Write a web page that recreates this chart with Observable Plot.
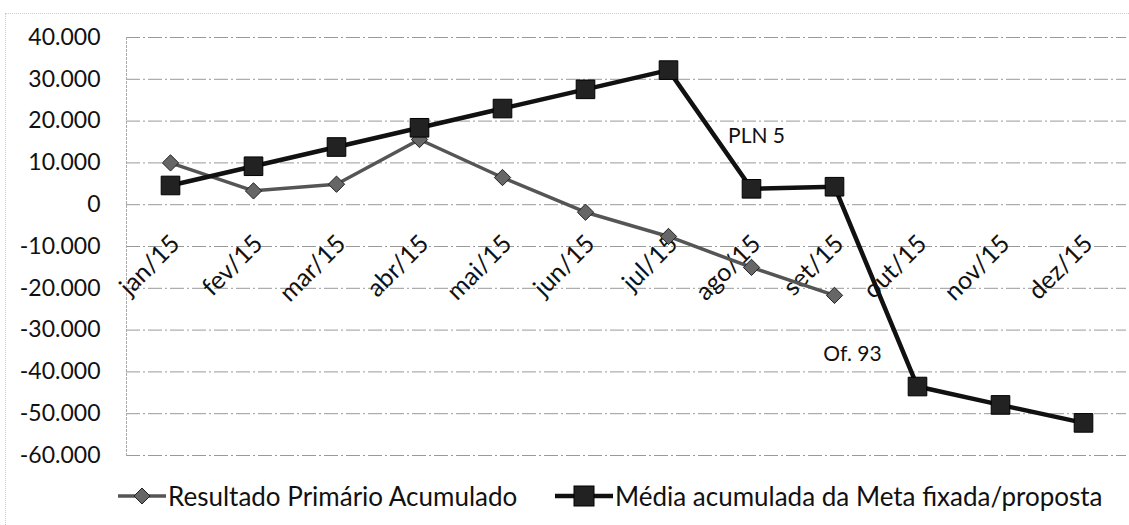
<!DOCTYPE html>
<html><head><meta charset="utf-8">
<script src="https://cdn.jsdelivr.net/npm/d3@7"></script>
<script src="https://cdn.jsdelivr.net/npm/@observablehq/plot@0.6"></script>
<style>
body{margin:0;background:#fff;font-family:Lato,sans-serif;}
#wrap{position:relative;width:1129px;height:525px;overflow:hidden;}
#chart{position:absolute;left:0;top:0;}
#legend{position:absolute;left:0;top:481px;width:1129px;height:30px;font-size:26px;color:#111;white-space:nowrap;}
#legend .it{position:absolute;top:0;height:30px;display:flex;align-items:center;}
#legend svg{display:block;}
#bt{position:absolute;left:5px;top:13px;width:1124px;border-top:1px dotted #ccc;}
#bl{position:absolute;left:5px;top:13px;height:512px;border-left:1px dotted #ccc;}
</style></head><body>
<div id="wrap"><div id="bt"></div><div id="bl"></div><div id="chart"></div><div id="legend"></div></div>
<script>
const months = ["jan/15","fev/15","mar/15","abr/15","mai/15","jun/15","jul/15","ago/15","set/15","out/15","nov/15","dez/15"];
const resultado = [10000, 3300, 4900, 15600, 6500, -1800, -7600, -15000, -21700];
const meta = [4600, 9200, 13800, 18400, 23000, 27600, 32200, 3800, 4300, -43500, -47900, -52200];
const yTicks = [40000, 30000, 20000, 10000, 0, -10000, -20000, -30000, -40000, -50000, -60000];
const seriesNames = ["Resultado Primário Acumulado", "Média acumulada da Meta fixada/proposta"];
const notes = ["PLN 5", "Of. 93"];
const noteMonths = ["ago/15", "set/15"];
const noteValues = [16300, -35700];

const fmt = d3.formatLocale({decimal:",", thousands:".", grouping:[3], currency:["R$ ",""], minus:"-"}).format(",d");
const resData = resultado.map((v,i)=>({m:months[i], v}));
const metaData = meta.map((v,i)=>({m:months[i], v}));
const diamond = {draw(ctx, size){const h=Math.sqrt(size/2); ctx.moveTo(0,-h); ctx.lineTo(h,0); ctx.lineTo(0,h); ctx.lineTo(-h,0); ctx.closePath();}};

const chart = Plot.plot({
  width:1129, height:470, marginLeft:126, marginRight:3, marginTop:37, marginBottom:15,
  style:{fontFamily:"Lato, sans-serif", fontSize:"23px", color:"#111", background:"transparent", overflow:"visible"},
  x:{type:"point", domain:months, padding:0.5, axis:null},
  y:{domain:[-60000,40000], axis:null},
  marks:[
    Plot.ruleY(yTicks,{stroke:"#999", strokeWidth:1, strokeDasharray:"14,3,2,3"}),
    Plot.frame({anchor:"left", stroke:"#aaa", strokeDasharray:"2,2"}),
    Plot.axisY(yTicks,{tickSize:0, tickPadding:26, tickFormat:fmt, fontSize:23, fill:"#111", label:null}),
    Plot.text(months,{x:d=>d, y:()=>0, text:d=>d, rotate:-45, textAnchor:"end", dx:5, dy:35, fontSize:25, fill:"#111"}),
    Plot.line(resData,{x:"m", y:"v", stroke:"#555", strokeWidth:3.5}),
    Plot.dot(resData,{x:"m", y:"v", symbol:diamond, r:6.5, fill:"#666", stroke:"#222", strokeWidth:1}),
    Plot.line(metaData,{x:"m", y:"v", stroke:"#111", strokeWidth:4.5}),
    Plot.dot(metaData,{x:"m", y:"v", symbol:"square", r:10.5, fill:"#222", stroke:"#000", strokeWidth:1}),
    Plot.text([notes[0]],{x:()=>noteMonths[0], y:()=>noteValues[0], text:d=>d, dx:5, fontSize:21, fill:"#111"}),
    Plot.text([notes[1]],{x:()=>noteMonths[1], y:()=>noteValues[1], text:d=>d, dx:18, fontSize:21, fill:"#111"})
  ]
});
document.getElementById("chart").appendChild(chart);

const legend = document.getElementById("legend");
legend.innerHTML = `
<div class="it" style="left:118px"><svg width="48" height="20"><line x1="0" y1="10" x2="48" y2="10" stroke="#555" stroke-width="3.5"/><path d="M24,2L32,10L24,18L16,10Z" fill="#666" stroke="#222"/></svg><span style="margin-left:2px">${seriesNames[0]}</span></div>
<div class="it" style="left:555px"><svg width="58" height="22"><line x1="0" y1="11" x2="58" y2="11" stroke="#111" stroke-width="4.5"/><rect x="19" y="1" width="20" height="20" fill="#222" stroke="#000"/></svg><span style="margin-left:2px">${seriesNames[1]}</span></div>`;
</script>
</body></html>
